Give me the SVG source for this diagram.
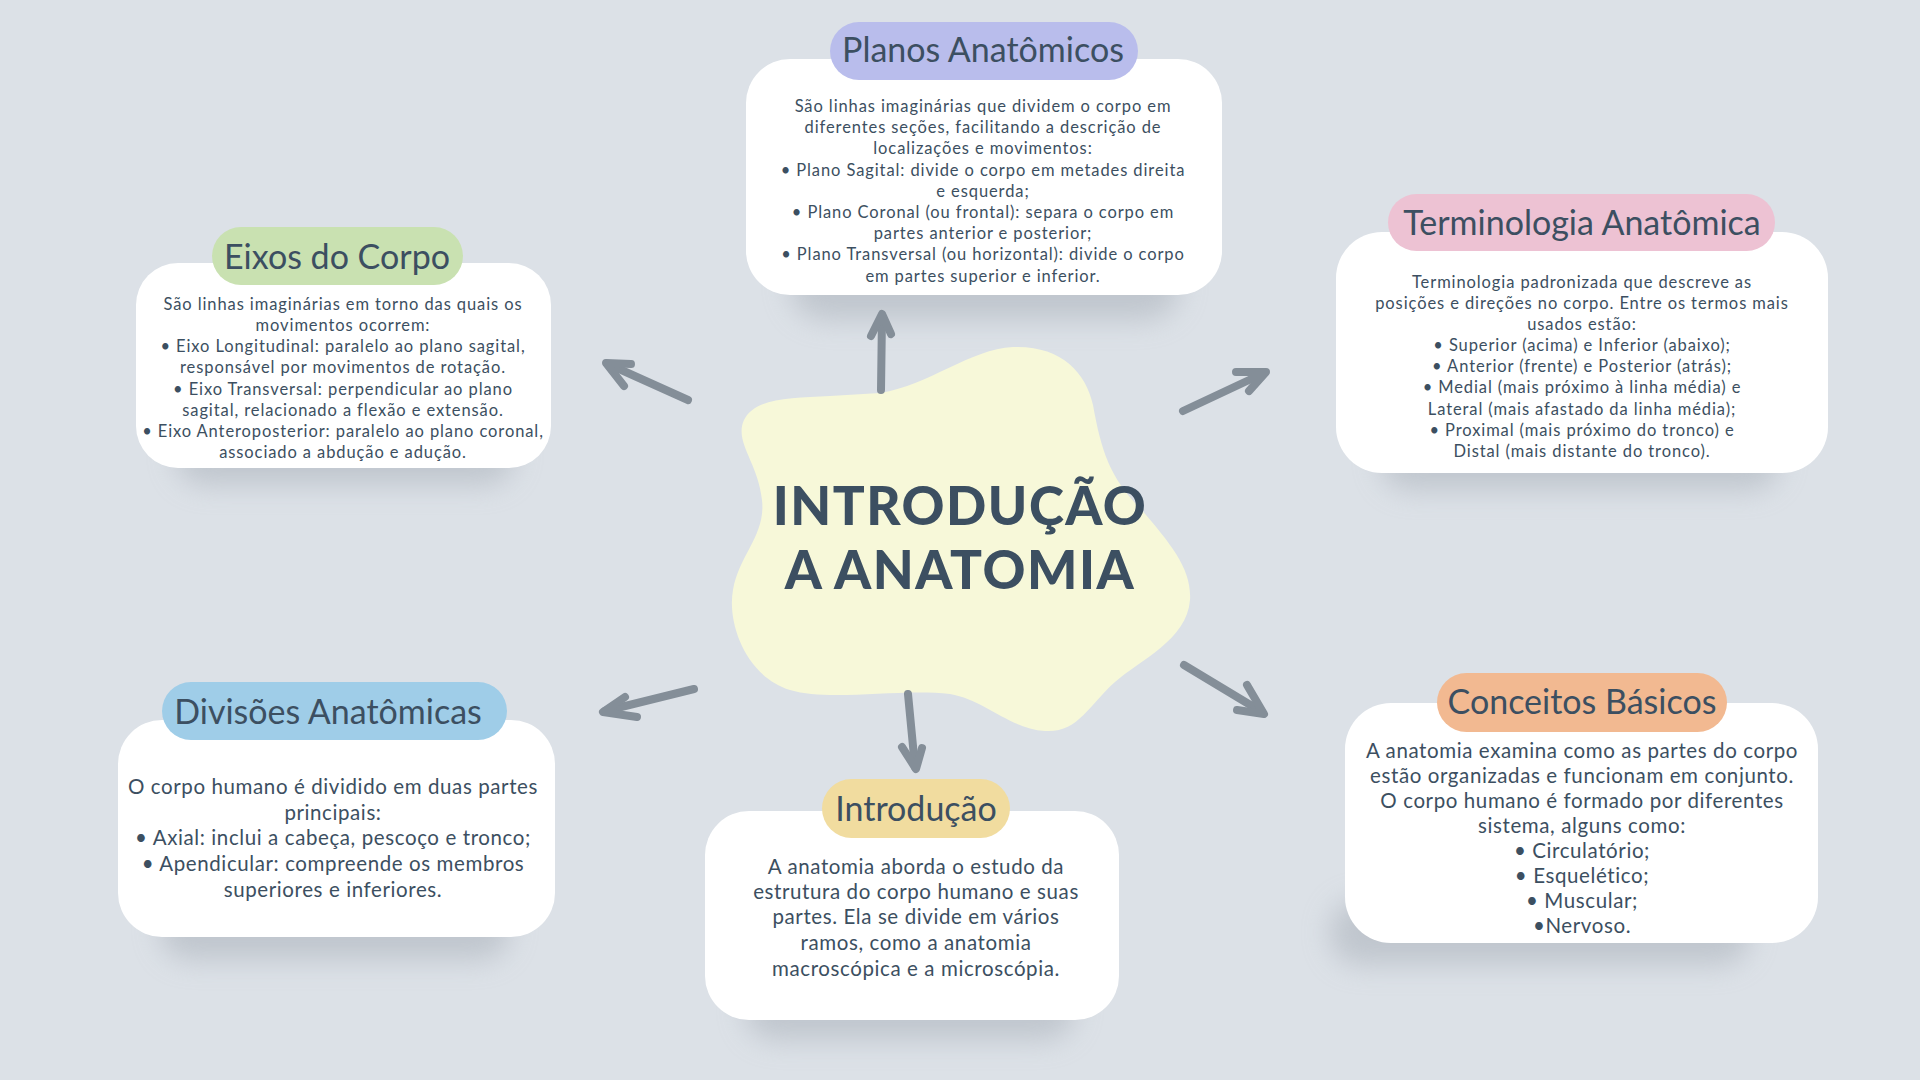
<svg xmlns="http://www.w3.org/2000/svg" width="1920" height="1080" viewBox="0 0 1920 1080">
  <defs>
    <filter id="soft" x="-20%" y="-50%" width="140%" height="200%">
      <feGaussianBlur stdDeviation="14"/>
    </filter>
    <style>
      .bg { fill: #dce1e7; }
      .card { fill: #ffffff; }
      .shadow { fill: #a9b0b9; opacity: 0.55; filter: url(#soft); }
      .title { font-family: "Lato", "Open Sans", sans-serif; font-size: 34px; fill: #3c4f61; text-anchor: middle; letter-spacing: 0px; }
      .body-s { font-family: "Lato", "Open Sans", sans-serif; font-size: 16.5px; fill: #3c4f61; text-anchor: middle; letter-spacing: 0.9px; }
      .body-l { font-family: "Lato", "Open Sans", sans-serif; font-size: 20.5px; fill: #3c4f61; text-anchor: middle; letter-spacing: 0.6px; }
      .main { font-family: "Lato", "Open Sans", sans-serif; font-weight: 900; font-size: 53px; fill: #3c4f61; text-anchor: middle; letter-spacing: 1.5px; }
      .arrow { fill: none; stroke: #848e98; stroke-width: 8; stroke-linecap: round; stroke-linejoin: round; }
    </style>
  </defs>

  <rect class="bg" x="0" y="0" width="1920" height="1080"/>

  <!-- Shadows -->
  <g id="shadows">
    <rect class="shadow" x="790" y="250" width="390" height="70" rx="35"/>
    <rect class="shadow" x="1380" y="430" width="400" height="60" rx="30"/>
    <rect class="shadow" x="175" y="425" width="340" height="60" rx="30"/>
    <rect class="shadow" x="160" y="895" width="350" height="65" rx="30"/>
    <rect class="shadow" x="745" y="975" width="330" height="65" rx="30"/>
    <rect class="shadow" x="1330" y="900" width="420" height="65" rx="30"/>
  </g>

  <!-- Center node -->
  <g id="center">
    <path d="M 880 393 C 930 385, 970 349, 1013 347 C 1060 345, 1086 372, 1093 405 C 1101 450, 1110 478, 1140 508 C 1172 545, 1192 570, 1190 600 C 1187 640, 1140 660, 1115 682 C 1088 706, 1078 733, 1045 731 C 1010 729, 985 700, 950 694 C 900 688, 830 702, 790 690 C 745 676, 727 622, 733 590 C 739 555, 766 535, 762 500 C 758 462, 734 442, 744 420 C 755 398, 790 398, 830 396 Z" fill="#f7f8d9"/>
    <text class="main" x="960" y="525">INTRODUÇÃO</text>
    <text class="main" x="960" y="589">A ANATOMIA</text>
  </g>

  <!-- Connectors -->
  <g id="connectors">
    <path class="arrow" d="M 881 390 L 882 316"/>
    <polyline class="arrow" points="871,336 882,314 891,334"/>
    <path class="arrow" d="M 688 400 L 608 364"/>
    <polyline class="arrow" points="631,364 606,363 624,386"/>
    <path class="arrow" d="M 1183 411 L 1264 373"/>
    <polyline class="arrow" points="1236,372 1266,372 1249,391"/>
    <path class="arrow" d="M 694 689 L 605 711"/>
    <polyline class="arrow" points="625,697 603,712 637,717"/>
    <path class="arrow" d="M 908 694 L 915 767"/>
    <polyline class="arrow" points="902,747 916,769 922,748"/>
    <path class="arrow" d="M 1184 665 L 1262 712"/>
    <polyline class="arrow" points="1247,685 1264,714 1237,710"/>
  </g>

  <!-- Planos Anatômicos -->
  <g id="planos">
    <rect class="card" x="746" y="59" width="476" height="236" rx="44"/>
    <rect x="830" y="22" width="308" height="58" rx="29" fill="#b9bdec"/>
    <text class="title" x="983" y="62">Planos Anatômicos</text>
    <text class="body-s" x="983" y="112">São linhas imaginárias que dividem o corpo em</text>
    <text class="body-s" x="983" y="133">diferentes seções, facilitando a descrição de</text>
    <text class="body-s" x="983" y="154">localizações e movimentos:</text>
    <text class="body-s" x="983" y="176">• Plano Sagital: divide o corpo em metades direita</text>
    <text class="body-s" x="983" y="197">e esquerda;</text>
    <text class="body-s" x="983" y="218">• Plano Coronal (ou frontal): separa o corpo em</text>
    <text class="body-s" x="983" y="239">partes anterior e posterior;</text>
    <text class="body-s" x="983" y="260">• Plano Transversal (ou horizontal): divide o corpo</text>
    <text class="body-s" x="983" y="282">em partes superior e inferior.</text>
  </g>

  <!-- Terminologia Anatômica -->
  <g id="terminologia">
    <rect class="card" x="1336" y="232" width="492" height="241" rx="46"/>
    <rect x="1388" y="194" width="387" height="57" rx="28.5" fill="#edc2d3"/>
    <text class="title" x="1582" y="235">Terminologia Anatômica</text>
    <text class="body-s" x="1582" y="288">Terminologia padronizada que descreve as</text>
    <text class="body-s" x="1582" y="309">posições e direções no corpo. Entre os termos mais</text>
    <text class="body-s" x="1582" y="330">usados estão:</text>
    <text class="body-s" x="1582" y="351">• Superior (acima) e Inferior (abaixo);</text>
    <text class="body-s" x="1582" y="372">• Anterior (frente) e Posterior (atrás);</text>
    <text class="body-s" x="1582" y="393">• Medial (mais próximo à linha média) e</text>
    <text class="body-s" x="1582" y="415">Lateral (mais afastado da linha média);</text>
    <text class="body-s" x="1582" y="436">• Proximal (mais próximo do tronco) e</text>
    <text class="body-s" x="1582" y="457">Distal (mais distante do tronco).</text>
  </g>

  <!-- Eixos do Corpo -->
  <g id="eixos">
    <rect class="card" x="136" y="263" width="415" height="205" rx="42"/>
    <rect x="212" y="227" width="251" height="58" rx="29" fill="#c9e1b1"/>
    <text class="title" x="337" y="269">Eixos do Corpo</text>
    <text class="body-s" x="343" y="310">São linhas imaginárias em torno das quais os</text>
    <text class="body-s" x="343" y="331">movimentos ocorrem:</text>
    <text class="body-s" x="343" y="352">• Eixo Longitudinal: paralelo ao plano sagital,</text>
    <text class="body-s" x="343" y="373">responsável por movimentos de rotação.</text>
    <text class="body-s" x="343" y="395">• Eixo Transversal: perpendicular ao plano</text>
    <text class="body-s" x="343" y="416">sagital, relacionado a flexão e extensão.</text>
    <text class="body-s" x="343" y="437">• Eixo Anteroposterior: paralelo ao plano coronal,</text>
    <text class="body-s" x="343" y="458">associado a abdução e adução.</text>
  </g>

  <!-- Divisões Anatômicas -->
  <g id="divisoes">
    <rect class="card" x="118" y="720" width="437" height="217" rx="44"/>
    <rect x="162" y="682" width="345" height="58" rx="29" fill="#9fcde8"/>
    <text class="title" x="328" y="724">Divisões Anatômicas</text>
    <text class="body-l" x="333" y="794">O corpo humano é dividido em duas partes</text>
    <text class="body-l" x="333" y="820">principais:</text>
    <text class="body-l" x="333" y="845">• Axial: inclui a cabeça, pescoço e tronco;</text>
    <text class="body-l" x="333" y="871">• Apendicular: compreende os membros</text>
    <text class="body-l" x="333" y="897">superiores e inferiores.</text>
  </g>

  <!-- Introdução -->
  <g id="introducao">
    <rect class="card" x="705" y="811" width="414" height="209" rx="44"/>
    <rect x="822" y="779" width="188" height="59" rx="29.5" fill="#f1dc9f"/>
    <text class="title" x="916" y="821">Introdução</text>
    <text class="body-l" x="916" y="874">A anatomia aborda o estudo da</text>
    <text class="body-l" x="916" y="899">estrutura do corpo humano e suas</text>
    <text class="body-l" x="916" y="924">partes. Ela se divide em vários</text>
    <text class="body-l" x="916" y="950">ramos, como a anatomia</text>
    <text class="body-l" x="916" y="976">macroscópica e a microscópia.</text>
  </g>

  <!-- Conceitos Básicos -->
  <g id="conceitos">
    <rect class="card" x="1345" y="703" width="473" height="240" rx="46"/>
    <rect x="1437" y="673" width="290" height="59" rx="29.5" fill="#f2b991"/>
    <text class="title" x="1582" y="714">Conceitos Básicos</text>
    <text class="body-l" x="1582" y="758">A anatomia examina como as partes do corpo</text>
    <text class="body-l" x="1582" y="783">estão organizadas e funcionam em conjunto.</text>
    <text class="body-l" x="1582" y="808">O corpo humano é formado por diferentes</text>
    <text class="body-l" x="1582" y="833">sistema, alguns como:</text>
    <text class="body-l" x="1582" y="858">• Circulatório;</text>
    <text class="body-l" x="1582" y="883">• Esquelético;</text>
    <text class="body-l" x="1582" y="908">• Muscular;</text>
    <text class="body-l" x="1582" y="933">•Nervoso.</text>
  </g>
</svg>
